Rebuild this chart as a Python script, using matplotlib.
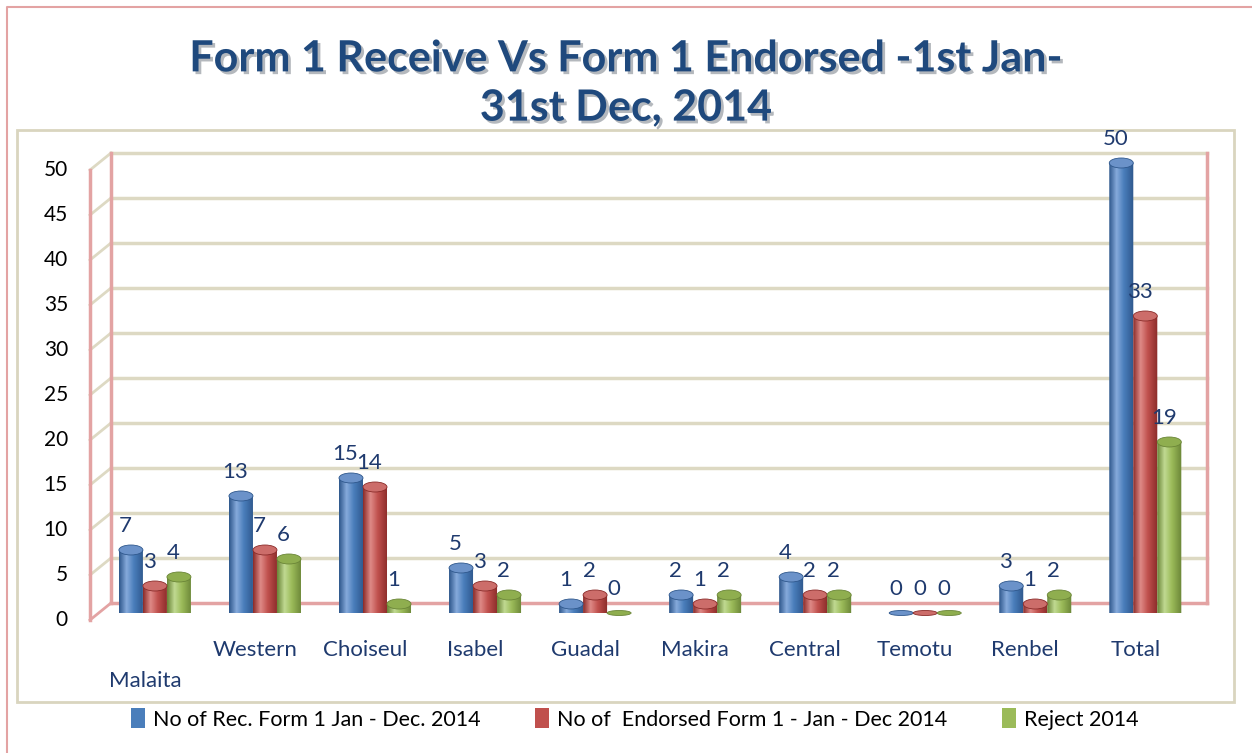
import numpy as np
import matplotlib
matplotlib.use("Agg")
import matplotlib.pyplot as plt
import matplotlib.transforms as mtrans
import matplotlib.patheffects as pe
from matplotlib.patches import Rectangle, Ellipse, PathPatch
from matplotlib.path import Path
from matplotlib.lines import Line2D
from matplotlib.colors import LinearSegmentedColormap

# datos
regiones = ["Malaita", "Western", "Choiseul", "Isabel", "Guadal",
            "Makira", "Central", "Temotu", "Renbel", "Total"]
recibidos = [7, 13, 15, 5, 1, 2, 4, 0, 3, 50]
endosados = [3, 7, 14, 3, 2, 1, 2, 0, 1, 33]
rechazados = [4, 6, 1, 2, 0, 2, 2, 0, 2, 19]
series_nombres = ["No of Rec. Form 1 Jan - Dec. 2014",
                  "No of  Endorsed Form 1 - Jan - Dec 2014",
                  "Reject 2014"]
titulo = "Form 1 Receive Vs Form 1 Endorsed -1st Jan-\n31st Dec, 2014"
yticks = list(range(0, 55, 5))

# colores: (oscuro, claro, base, tapa)
colores = [("#2E578C", "#86AADB", "#4A7EBB", "#6B92C9"),
           ("#8A2B29", "#DE8A87", "#C0504D", "#CC6D6A"),
           ("#6A8537", "#C0D992", "#9BBB59", "#8FAE4F")]
azul_txt = "#1F3A6E"
rosa = "#E3A3A3"
beige = "#DDD9C3"

W, H = 1252, 753
plt.rcParams['font.family'] = ['Lato', 'DejaVu Sans']

fig = plt.figure(figsize=(W / 100, H / 100), dpi=100)

def fx(px):
    return px / W

def fy(py):
    return 1 - py / H

# marcos
fig.lines.append(Line2D([fx(7), fx(7), 1.0], [0, fy(7), fy(7)], transform=fig.transFigure,
                        color=rosa, lw=1.5, zorder=-5))
fig.patches.append(Rectangle((fx(17), fy(702)), fx(1234) - fx(17), fy(130) - fy(702),
                             transform=fig.transFigure, fill=False, edgecolor="#D9D5BF",
                             lw=2, zorder=-5))

ax = fig.add_axes([fx(90), fy(613), fx(1186) - fx(90), fy(163) - fy(613)])
ax.set_xlim(-0.59, 9.37)
ax.set_ylim(0, 50)
ax.axis("off")

dpi = fig.dpi
fondo = ax.transData + mtrans.ScaledTranslation(21 / dpi, 10 / dpi, fig.dpi_scale_trans)
frente = ax.transData + mtrans.ScaledTranslation(0, -7 / dpi, fig.dpi_scale_trans)
xmin, xmax = ax.get_xlim()

# pared del fondo
for v in yticks:
    c = rosa if v == 0 else beige
    ax.plot([xmin, xmax], [v, v], color=c, lw=2.5, transform=fondo, zorder=1, clip_on=False)
    p1 = frente.transform((xmin, v))
    p2 = fondo.transform((xmin, v))
    ax.plot([p1[0], p2[0]], [p1[1], p2[1]], color=c, lw=2,
            transform=mtrans.IdentityTransform(), zorder=1, clip_on=False)
ax.plot([xmin, xmin], [0, 50], color=rosa, lw=2.5, transform=fondo, zorder=1, clip_on=False)
ax.plot([xmax, xmax], [0, 50], color=rosa, lw=2.5, transform=fondo, zorder=1, clip_on=False)
ax.plot([xmin, xmin], [0, 50], color=rosa, lw=2.5, transform=frente, zorder=1, clip_on=False)

# etiquetas eje y
ytrans = mtrans.blended_transform_factory(ax.transAxes, ax.transData) + \
    mtrans.ScaledTranslation(-22 / dpi, -7 / dpi, fig.dpi_scale_trans)
for v in yticks:
    ax.text(0, v, str(v), transform=ytrans, ha="right", va="center",
            fontsize=15, color="black")

# barras cilindricas
ancho = 24 / 110
eh = 5 / 9
grad = np.linspace(0, 1, 64).reshape(1, -1)
datos = [recibidos, endosados, rechazados]
for i in range(len(regiones)):
    for j, serie in enumerate(datos):
        v = serie[i]
        oscuro, claro, base, tapa = colores[j]
        cx = i + (j - 1) * ancho
        x0, x1 = cx - ancho / 2, cx + ancho / 2
        if v > 0:
            cmap = LinearSegmentedColormap.from_list(
                "c%d" % j, [(0, oscuro), (0.3, claro), (0.6, base), (1, oscuro)])
            t = np.linspace(np.pi, 2 * np.pi, 40)
            arco = np.column_stack([cx + ancho / 2 * np.cos(t), eh * np.sin(t)])
            pts = np.vstack([[x0, v], arco, [x1, v], [x0, v]])
            clip = PathPatch(Path(pts), transform=ax.transData)
            im = ax.imshow(grad, cmap=cmap, extent=[x0, x1, -eh, v],
                           aspect="auto", zorder=3 + i * 0.01, interpolation="bilinear")
            im.set_clip_path(clip)
            alto = 2 * eh
        else:
            alto = eh
        ax.add_patch(Ellipse((cx, v), ancho, alto, facecolor=tapa,
                             edgecolor=oscuro, lw=0.6, zorder=3.005 + i * 0.01,
                             clip_on=False))
        ax.annotate(str(v), (cx, v), xytext=(-4, 17), textcoords="offset points",
                    ha="center", va="center", fontsize=16, color=azul_txt, zorder=5,
                    annotation_clip=False)

ax.set_xlim(xmin, xmax)
ax.set_ylim(0, 50)

# etiquetas de categorias
ctrans = mtrans.blended_transform_factory(ax.transData, fig.transFigure) + \
    mtrans.ScaledTranslation(-10 / dpi, 0, fig.dpi_scale_trans)
for i, r in enumerate(regiones):
    yy = fy(681) if i == 0 else fy(650)
    ax.text(i, yy, r, transform=ctrans, ha="center", va="center",
            fontsize=16, color=azul_txt)

# titulo
fig.text(0.5, fy(83), titulo, ha="center", va="center", fontsize=31,
         fontweight="bold", color="#1F497D", linespacing=1.28,
         path_effects=[pe.withSimplePatchShadow(offset=(2, -2), alpha=0.3)])

# leyenda
handles = [Rectangle((0, 0), 1, 1, facecolor=c[2]) for c in colores]
fig.legend(handles, series_nombres, loc="center", bbox_to_anchor=(0.507, fy(719)),
           ncol=3, frameon=False, fontsize=15.5, handlelength=0.65, handleheight=1.0,
           handletextpad=0.4, columnspacing=2.5)

fig.savefig("out.png", dpi=100)
